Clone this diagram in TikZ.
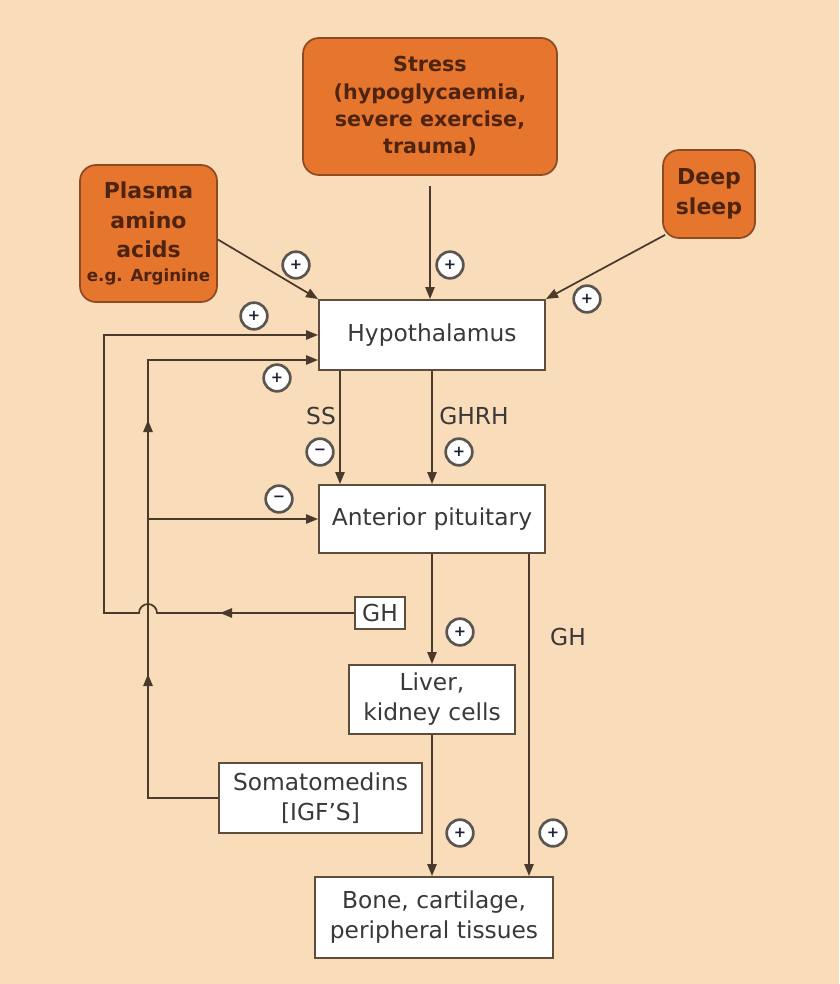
\documentclass[tikz,border=0pt]{standalone}
\usepackage{fontspec}
\setmainfont{DejaVu Sans}
\usetikzlibrary{arrows.meta,calc}
\definecolor{bg}{HTML}{F9DCBA}
\definecolor{orng}{HTML}{E6762E}
\definecolor{obrd}{HTML}{8E4A22}
\definecolor{otxt}{HTML}{4E2410}
\definecolor{wbrd}{HTML}{5E4C3C}
\definecolor{wtxt}{HTML}{3A3838}
\definecolor{lnc}{HTML}{4A3A2C}
\definecolor{sgn}{HTML}{5A5550}
\definecolor{sgntxt}{HTML}{1E2238}
\begin{document}
\begin{tikzpicture}[x=0.75pt,y=-0.75pt,
  orangebox/.style={draw=obrd, fill=orng, rounded corners=12pt, line width=1.3pt, text=otxt,
     font=\bfseries\fontsize{15.5}{20.5}\selectfont, align=center, inner sep=0pt},
  whitebox/.style={draw=wbrd, fill=white, line width=1.5pt, text=wtxt,
     font=\fontsize{17.5}{22.5}\selectfont, align=center, inner sep=0pt},
  arr/.style={draw=lnc, line width=1.3pt, -{Triangle[length=9pt,width=7pt]}},
  sign/.style={circle, draw=sgn, line width=2pt, fill=white, minimum size=20pt, inner sep=0pt,
     text=sgntxt, font=\bfseries\fontsize{11}{11}\selectfont},
  lbl/.style={text=wtxt, font=\fontsize{17.5}{20}\selectfont, inner sep=0pt}
]
\fill[bg] (0,0) rectangle (839,984);
\useasboundingbox (0,0) rectangle (839,984);

% boxes
\node[orangebox, minimum width=190.5pt, minimum height=102.75pt] (stress) at (430,106.5)
  {Stress\\(hypoglycaemia,\\severe exercise,\\trauma)};
\node[orangebox, minimum width=102.75pt, minimum height=102.75pt, font=\bfseries\fontsize{16.5}{22}\selectfont] (plasma) at (148.5,233.5)
  {Plasma\\amino\\acids\\[-4pt]{\fontsize{12.5}{14}\selectfont e.g. Arginine}};
\node[orangebox, minimum width=69pt, minimum height=66pt, font=\bfseries\fontsize{16.5}{22.5}\selectfont] (sleep) at (709,194) {Deep\\sleep};

\node[whitebox, minimum width=169.5pt, minimum height=52.5pt] (hypo) at (432,335) {Hypothalamus};
\node[whitebox, minimum width=169.5pt, minimum height=51pt] (pit) at (432,519) {Anterior pituitary};
\node[whitebox, minimum width=37.5pt, minimum height=24pt] (ghbox) at (380,613) {GH};
\node[whitebox, minimum width=124.5pt, minimum height=51.75pt] (liver) at (432,699.5) {Liver,\\kidney cells};
\node[whitebox, minimum width=152.25pt, minimum height=52.5pt] (soma) at (320.5,798) {Somatomedins\\{[IGF'S]}};
\node[whitebox, minimum width=178.5pt, minimum height=60.75pt] (bone) at (434,917.5) {Bone, cartilage,\\peripheral tissues};

% labels
\node[lbl] (ss) at (321,416) {SS};
\node[lbl] (ghrh) at (474,416) {GHRH};
\node[lbl] (ghl) at (568,637) {GH};

% coordinates
\coordinate (vx) at (148,798);
\coordinate (ox) at (104,613);
\coordinate (ghtop) at ($(pit.south east)+(-17,0)$);

% stimuli arrows
\draw[arr] ($(plasma.east)+(0,6)$) -- (hypo.north west);
\draw[arr] ($(stress.south)+(0,10)$) -- (stress.south |- hypo.north);
\draw[arr] ($(sleep.south west)+(3,-4)$) -- (hypo.north east);

% hypothalamus to pituitary
\draw[arr] ($(hypo.south west)+(22,0)$) -- ($(pit.north west)+(22,0)$);
\draw[arr] (hypo.south) -- (pit.north);

% pituitary outputs
\draw[arr] (pit.south) -- (liver.north);
\draw[arr] (ghtop) -- (ghtop |- bone.north);
\draw[arr] (liver.south) -- (liver.south |- bone.north);

% outer GH feedback loop with hop
\draw[arr] (ghbox.west) -- (157,613) arc[start angle=0, end angle=-180, radius=9] -- (ox) -- (ox |- hypo.west) -- (hypo.west);
\draw[arr] (245,613) -- (220,613);

% inner somatomedin feedback loop
\draw[arr] (soma.west) -- (vx) -- ($(vx |- hypo.west)+(0,25)$) -- ($(hypo.west)+(0,25)$);
\draw[arr] (vx |- pit.west) -- (pit.west);
\draw[arr] (148,445) -- (148,420);
\draw[arr] (148,699) -- (148,674);

% signs
\node[sign] (s1) at (296,265) {+};
\node[sign] (s2) at (254,316) {+};
\node[sign] (s3) at (277,378) {+};
\node[sign] (s4) at (450,265) {+};
\node[sign] (s5) at (587,299) {+};
\node[sign] (s6) at (320,452) {\textminus};
\node[sign] (s7) at (459,452) {+};
\node[sign] (s8) at (279,499) {\textminus};
\node[sign] (s9) at (460,632) {+};
\node[sign] (s10) at (460,833) {+};
\node[sign] (s11) at (553,833) {+};
\end{tikzpicture}
\end{document}
